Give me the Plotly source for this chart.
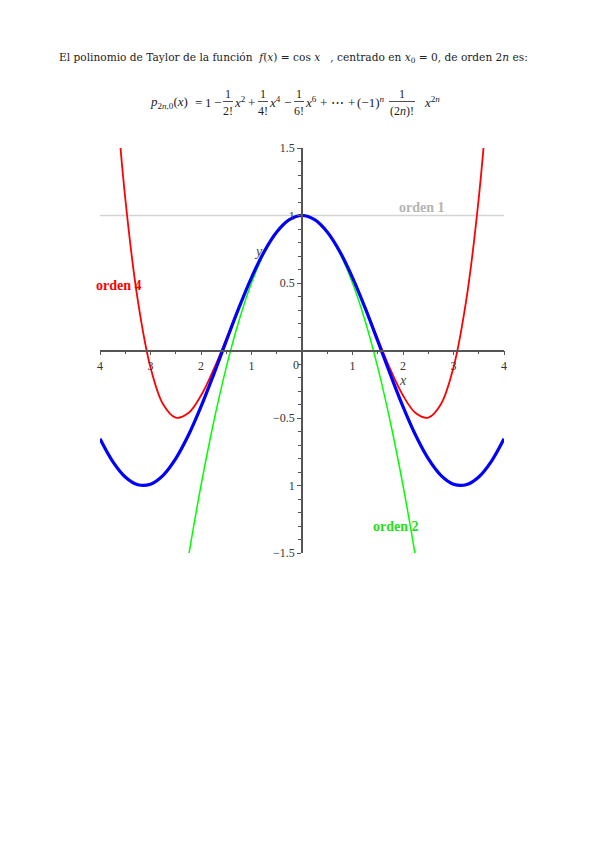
import plotly.graph_objects as go

# ---------------- data ----------------
x_cos = [-4.0, -3.75, -3.5, -3.25, -3.0, -2.75, -2.5, -2.25, -2.0, -1.75, -1.5, -1.25, -1.0, -0.75, -0.5, -0.25, 0.0,
         0.25, 0.5, 0.75, 1.0, 1.25, 1.5, 1.75, 2.0, 2.25, 2.5, 2.75, 3.0, 3.25, 3.5, 3.75, 4.0]
y_cos = [-0.6536, -0.8206, -0.9365, -0.9941, -0.9900, -0.9243, -0.8011, -0.6282, -0.4161, -0.1782, 0.0707, 0.3153,
         0.5403, 0.7317, 0.8776, 0.9689, 1.0,
         0.9689, 0.8776, 0.7317, 0.5403, 0.3153, 0.0707, -0.1782, -0.4161, -0.6282, -0.8011, -0.9243, -0.9900,
         -0.9941, -0.9365, -0.8206, -0.6536]

x_o1 = [-4.0, 4.0]
y_o1 = [1.0, 1.0]

x_o2 = [-2.5, -2.25, -2.0, -1.75, -1.5, -1.25, -1.0, -0.75, -0.5, -0.25, 0.0,
        0.25, 0.5, 0.75, 1.0, 1.25, 1.5, 1.75, 2.0, 2.25, 2.5]
y_o2 = [-2.125, -1.5313, -1.0, -0.5313, -0.125, 0.2188, 0.5, 0.7188, 0.875, 0.9688, 1.0,
        0.9688, 0.875, 0.7188, 0.5, 0.2188, -0.125, -0.5313, -1.0, -1.5313, -2.125]

x_o4 = [-3.75, -3.5, -3.25, -3.0, -2.75, -2.5, -2.25, -2.0, -1.75, -1.5, -1.25, -1.0, -0.75, -0.5, -0.25, 0.0,
        0.25, 0.5, 0.75, 1.0, 1.25, 1.5, 1.75, 2.0, 2.25, 2.5, 2.75, 3.0, 3.25, 3.5, 3.75]
y_o4 = [2.2085, 1.1276, 0.3673, -0.125, -0.3983, -0.4974, -0.4634, -0.3333, -0.1405, 0.0859, 0.3205, 0.5417,
        0.7320, 0.8776, 0.9689, 1.0,
        0.9689, 0.8776, 0.7320, 0.5417, 0.3205, 0.0859, -0.1405, -0.3333, -0.4634, -0.4974, -0.3983, -0.125,
        0.3673, 1.1276, 2.2085]

x_tickvals = [-4, -3, -2, -1, 1, 2, 3, 4]
x_ticktext = ["4", "3", "2", "1", "1", "2", "3", "4"]
y_tickvals = [-1.5, -1.0, -0.5, 0.5, 1.0, 1.5]
y_ticktext = ["\u22121.5", "1", "\u22120.5", "0.5", "1", "1.5"]

labels = ["orden 1", "orden 2", "orden 4"]

# ---------------- figure ----------------
# the page body has an 8px margin, so the figure is 8px smaller than the window
OFF = 8
W, H = 599 - OFF, 848 - OFF
L, R, T, B = 100 - OFF, 95, 148 - OFF, 295


def pxx(p):
    return (p - OFF - L) / (W - L - R)


def pxy(p):
    return (H - B - (p - OFF)) / (H - T - B)


SERIF = "Liberation Serif, Times New Roman, serif"
TXT = "#222222"

fig = go.Figure()
fig.add_trace(go.Scatter(x=x_o1, y=y_o1, mode="lines", line=dict(color="#d4d4d4", width=1.5), hoverinfo="skip"))
fig.add_trace(go.Scatter(x=x_o2, y=y_o2, mode="lines", line=dict(color="#00ff00", width=1.5, shape="spline"),
                         hoverinfo="skip"))
fig.add_trace(go.Scatter(x=x_o4, y=y_o4, mode="lines", line=dict(color="#ff0000", width=1.8, shape="spline"),
                         hoverinfo="skip"))
fig.add_trace(go.Scatter(x=x_cos, y=y_cos, mode="lines", line=dict(color="#0000ff", width=3.2, shape="spline"),
                         hoverinfo="skip"))

axis_common = dict(showgrid=False, zeroline=False, showline=True, linecolor="#555555", linewidth=1.5,
                   ticks="outside", ticklen=4, tickwidth=1.2, tickcolor="#555555",
                   tickfont=dict(family=SERIF, size=12, color="#333333"), anchor="free", position=0.5,
                   fixedrange=True)

fig.update_layout(
    width=W, height=H, margin=dict(l=L, r=R, t=T, b=B),
    paper_bgcolor="white", plot_bgcolor="white", showlegend=False,
    xaxis=dict(range=[-4, 4], tickmode="array", tickvals=x_tickvals, ticktext=x_ticktext,
               minor=dict(tickmode="linear", tick0=0, dtick=0.5, ticks="outside", ticklen=3,
                          tickcolor="#555555", tickwidth=1.2),
               **axis_common),
    yaxis=dict(range=[-1.5, 1.5], tickmode="array", tickvals=y_tickvals, ticktext=y_ticktext,
               minor=dict(tickmode="linear", tick0=0, dtick=0.1, ticks="outside", ticklen=3,
                          tickcolor="#555555", tickwidth=1.2),
               **axis_common),
)

ann = []


def text_at(px, py, text, size=12, color=TXT, family=SERIF, xanchor="center"):
    ann.append(dict(x=pxx(px), y=pxy(py), xref="paper", yref="paper", text=text, showarrow=False,
                    xanchor=xanchor, yanchor="middle", font=dict(family=family, size=size, color=color)))


# origin label and axis names
ann.append(dict(x=0, y=0, xref="x", yref="y", text="0", showarrow=False, xanchor="right", yanchor="top",
                xshift=-1, yshift=-5, font=dict(family=SERIF, size=12, color="#333333")))
text_at(403, 380, "<i>x</i>", size=14, color="#444444")
text_at(258, 251, "<i>y</i>", size=14, color="#444444")

# curve labels
text_at(422, 207, "<b>" + labels[0] + "</b>", size=14, color="#b4b4b4")
text_at(396, 526, "<b>" + labels[1] + "</b>", size=14, color="#22dd22")
text_at(119, 285, "<b>" + labels[2] + "</b>", size=14, color="#ff0000")

# header line
NB = "\u00a0"
line1 = ("El polinomio de Taylor de la función" + NB * 2 + "<i>f</i>(<i>x</i>) = cos <i>x</i>" + NB * 3 +
         ", centrado en <i>x</i><sub>0</sub> = 0, de orden 2<i>n</i> es:")
text_at(57, 58, line1, size=10.6, family="DejaVu Serif, serif", xanchor="left")

# formula tokens (centres in page pixels)
FY = 102
FS = 13
tokens = [
    (169, "<i>p</i><sub>2<i>n</i>,0</sub>(<i>x</i>)"),
    (198, "="),
    (208, "1"),
    (217, "\u2212"),
    (240, "<i>x</i><sup>2</sup>"),
    (251, "+"),
    (275, "<i>x</i><sup>4</sup>"),
    (287, "\u2212"),
    (311, "<i>x</i><sup>6</sup>"),
    (323, "+"),
    (337, "\u22ef"),
    (351, "+"),
    (371, "(\u22121)<sup><i>n</i></sup>"),
    (432, "<i>x</i><sup>2<i>n</i></sup>"),
]
for cx, t in tokens:
    text_at(cx, FY, t, size=FS)

fracs = [(228, 10, "1", "2!"), (263, 10, "1", "4!"), (299, 10, "1", "6!"), (402, 26, "1", "(2<i>n</i>)!")]
shapes = []
for cx, w, num, den in fracs:
    text_at(cx, 94, num, size=12)
    text_at(cx, 111, den, size=12)
    shapes.append(dict(type="line", xref="paper", yref="paper", x0=pxx(cx - w / 2), x1=pxx(cx + w / 2),
                       y0=pxy(101.5), y1=pxy(101.5), line=dict(color=TXT, width=0.8)))

fig.update_layout(annotations=ann, shapes=shapes)

fig.write_html("out.html")
